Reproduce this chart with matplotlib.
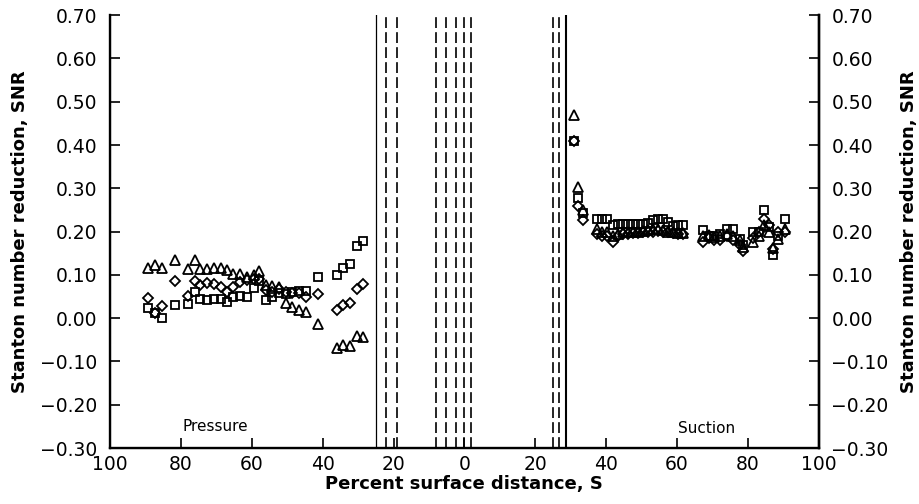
import matplotlib
matplotlib.use("Agg")
import matplotlib.pyplot as plt
import numpy as np

plt.rcParams['font.family'] = ['DejaVu Sans']

# Pressure side stations (percent surface distance, plotted to the left)
p_s = [89.2, 87.3, 85.4, 81.7, 78.0, 76.0, 74.6, 72.5, 70.7, 68.8, 67.1, 65.2, 63.3,
       61.4, 59.5, 57.9, 56.1, 54.2, 52.3, 50.4, 48.7, 46.7, 44.8, 41.3, 36.0, 34.2,
       32.2, 30.3, 28.5]
p_square = [0.024, 0.013, 0.001, 0.030, 0.033, 0.061, 0.044, 0.042, 0.044, 0.044, 0.038, 0.049, 0.051,
            0.049, 0.069, 0.085, 0.042, 0.049, 0.057, 0.055, 0.061, 0.063, 0.063, 0.094, 0.100, 0.117,
            0.124, 0.167, 0.179]
p_diamond = [0.046, 0.013, 0.028, 0.086, 0.052, 0.086, 0.076, 0.082, 0.080, 0.071, 0.061, 0.071, 0.084,
             0.088, 0.091, 0.091, 0.065, 0.061, 0.067, 0.061, 0.057, 0.057, 0.049, 0.056, 0.020, 0.030,
             0.034, 0.067, 0.079]
p_triangle = [0.115, 0.123, 0.115, 0.134, 0.113, 0.134, 0.113, 0.113, 0.115, 0.115, 0.111, 0.102, 0.102,
              0.096, 0.100, 0.109, 0.076, 0.074, 0.072, 0.034, 0.025, 0.019, 0.015, -0.013, -0.070, -0.062,
              -0.064, -0.041, -0.044]

# Suction side stations (plotted to the right)
s_s = [31.0, 32.1, 33.5, 37.3, 38.7, 40.1, 42.0, 43.4, 44.8, 46.2, 47.6, 49.0, 50.4, 51.8,
       53.2, 54.6, 56.0, 57.4, 58.8, 60.2, 61.6, 67.4, 69.0, 70.5, 72.0, 74.0, 75.8, 77.7,
       78.7, 81.5, 83.0, 84.5, 86.0, 87.1, 88.5, 90.4]
s_square = [0.410, 0.277, 0.244, 0.229, 0.229, 0.229, 0.215, 0.217, 0.217, 0.217, 0.217, 0.217, 0.217, 0.220,
            0.227, 0.230, 0.228, 0.222, 0.212, 0.215, 0.215, 0.203, 0.190, 0.190, 0.195, 0.207, 0.207, 0.184,
            0.170, 0.200, 0.200, 0.250, 0.210, 0.146, 0.190, 0.230]
s_diamond = [0.410, 0.260, 0.227, 0.195, 0.190, 0.190, 0.176, 0.190, 0.195, 0.195, 0.197, 0.197, 0.198, 0.200,
             0.200, 0.202, 0.200, 0.198, 0.196, 0.195, 0.195, 0.176, 0.185, 0.180, 0.180, 0.190, 0.180, 0.170,
             0.155, 0.185, 0.200, 0.230, 0.215, 0.160, 0.200, 0.200]
s_triangle = [0.470, 0.304, 0.250, 0.205, 0.200, 0.200, 0.190, 0.195, 0.198, 0.198, 0.200, 0.200, 0.202, 0.203,
              0.205, 0.205, 0.203, 0.200, 0.198, 0.197, 0.197, 0.190, 0.192, 0.188, 0.190, 0.195, 0.190, 0.180,
              0.165, 0.176, 0.190, 0.215, 0.200, 0.161, 0.184, 0.207]

# Vertical reference lines (signed: negative = pressure side)
solid_lines = [-25.0, 28.8]
dashed_lines = [-22.2, -19.0, -8.0, -5.3, -2.4, -0.1, 1.9, 25.0, 26.8]

x_ticks = [-100, -80, -60, -40, -20, 0, 20, 40, 60, 80, 100]
x_tick_labels = ["100", "80", "60", "40", "20", "0", "20", "40", "60", "80", "100"]
y_ticks = [-0.30, -0.20, -0.10, 0.00, 0.10, 0.20, 0.30, 0.40, 0.50, 0.60, 0.70]
y_tick_labels = ["\u22120.30", "\u22120.20", "\u22120.10", "0.00", "0.10", "0.20", "0.30",
                 "0.40", "0.50", "0.60", "0.70"]

fig = plt.figure(figsize=(9.2, 5.04), dpi=100)
ax = fig.add_axes([0.1196, 0.111, 0.7704, 0.859])

mk = dict(linestyle='none', markerfacecolor='none', markeredgecolor='black',
          markeredgewidth=1.3, clip_on=False)

px = -np.array(p_s)
sx = np.array(s_s)
ax.plot(px, p_square, marker='s', markersize=6.2, **mk)
ax.plot(px, p_diamond, marker='D', markersize=5.6, **mk)
ax.plot(px, p_triangle, marker='^', markersize=7.5, **mk)
ax.plot(sx, s_square, marker='s', markersize=6.2, **mk)
ax.plot(sx, s_diamond, marker='D', markersize=5.6, **mk)
ax.plot(sx, s_triangle, marker='^', markersize=7.5, **mk)

ax.axvline(solid_lines[0], color='black', linewidth=0.9)
ax.axvline(solid_lines[1], color='black', linewidth=1.5)
for xv in dashed_lines:
    ax.axvline(xv, color='black', linewidth=1.2, linestyle=(0, (6.5, 2.5)))

ax.set_xlim(-100, 100)
ax.set_ylim(-0.30, 0.70)
ax.set_xticks(x_ticks)
ax.set_xticklabels(x_tick_labels)
ax.set_yticks(y_ticks)
ax.set_yticklabels(y_tick_labels)

for sp in ['left', 'bottom', 'right']:
    ax.spines[sp].set_linewidth(1.7)
ax.spines['top'].set_visible(False)

ax.tick_params(axis='both', direction='in', length=7, width=1.2, labelsize=13.5)
ax.tick_params(axis='y', pad=9)
ax.tick_params(axis='x', pad=5)

ax2 = ax.twinx()
ax2.set_ylim(-0.30, 0.70)
ax2.set_yticks(y_ticks)
ax2.set_yticklabels(y_tick_labels)
ax2.spines['top'].set_visible(False)
ax2.spines['right'].set_linewidth(1.7)
ax2.tick_params(axis='y', direction='in', length=7, width=1.2, labelsize=13.5, pad=9)

ax.set_xlabel("Percent surface distance, S", fontsize=13, fontweight='bold', labelpad=1)
ax.set_ylabel("Stanton number reduction, SNR", fontsize=13, fontweight='bold', labelpad=8)
ax2.set_ylabel("Stanton number reduction, SNR", fontsize=13, fontweight='bold', labelpad=8)

ax.text(-70.4, -0.251, "Pressure", fontsize=11, ha='center', va='center')
ax.text(68.3, -0.254, "Suction", fontsize=11, ha='center', va='center')

fig.savefig("out.png", dpi=100)
